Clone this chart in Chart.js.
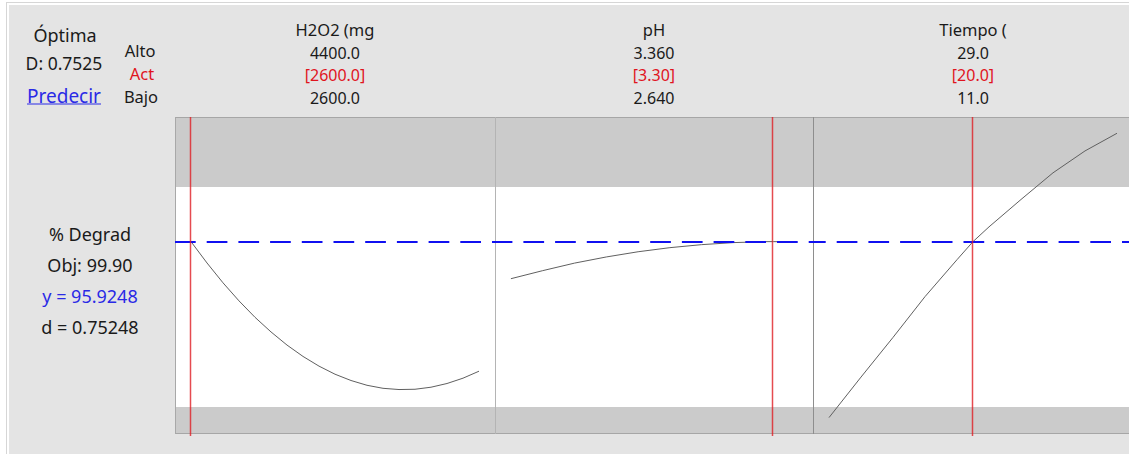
<!DOCTYPE html>
<html>
<head>
<meta charset="utf-8">
<script src="https://cdn.jsdelivr.net/npm/chart.js@4.4.1/dist/chart.umd.min.js"></script>
<style>
  html, body { margin: 0; padding: 0; background: #ffffff; }
  #frame { position: absolute; left: 6px; top: 2px; width: 1130px; height: 460px; border: 1px solid #d6d6d6; }
  #sheet { position: absolute; left: 9px; top: 5px; width: 1130px; height: 460px; background: #e4e4e4; }
  .t { position: absolute; transform: translate(-50%, -50%); white-space: nowrap;
       font-family: "Noto Sans", "Open Sans", sans-serif; color: #1a1a1a; line-height: 1; }
  .red { color: #e0141e; }
  .blue { color: #2a2ae6; }
  canvas.panel { position: absolute; }
</style>
</head>
<body>
<div id="frame"></div>
<div id="sheet"></div>
<div id="labels"></div>
<canvas id="p0" class="panel"></canvas>
<canvas id="p1" class="panel"></canvas>
<canvas id="p2" class="panel"></canvas>
<script>
// Optimizer summary
const compositeD = '0.7525';
const responseName = '% Degrad';
const targetValue = 99.90;     // objective
const lowerValue = 83.84;      // lower desirability bound
const predictedY = 95.9248;
const desirability = 0.75248;

// Factors
const factorNames = ['H2O2 (mg', 'pH', 'Tiempo ('];
const highLabels = ['4400.0', '3.360', '29.0'];
const currentLabels = ['[2600.0]', '[3.30]', '[20.0]'];
const lowLabels = ['2600.0', '2.640', '11.0'];
const factorLow = [2600, 2.64, 11];
const factorHigh = [4400, 3.36, 29];
const factorCurrent = [2600, 3.30, 20];

// Predicted response traces along each factor
const h2o2X = [2600, 2700, 2800, 2900, 3000, 3100, 3200, 3300, 3400, 3500, 3600, 3700, 3800, 3900, 4000, 4100, 4200, 4300, 4400];
const h2o2Y = [95.92, 94.36, 92.91, 91.59, 90.39, 89.32, 88.36, 87.53, 86.82, 86.23, 85.77, 85.42, 85.20, 85.11, 85.13, 85.28, 85.55, 85.94, 86.45];
const phX = [2.64, 2.72, 2.80, 2.88, 2.96, 3.04, 3.12, 3.20, 3.28, 3.30, 3.36];
const phY = [93.21, 93.80, 94.35, 94.80, 95.18, 95.48, 95.70, 95.85, 95.92, 95.92, 95.89];
const tiempoX = [11, 13, 15, 17, 19, 20, 21, 23, 25, 27, 29];
const tiempoY = [83.06, 86.02, 88.92, 91.90, 94.60, 95.92, 97.00, 99.00, 100.95, 102.55, 103.84];

// Shared response axis limits
const yAxisMin = 81.86;
const yAxisMax = 105.03;

const traces = [[h2o2X, h2o2Y], [phX, phY], [tiempoX, tiempoY]];

// Panel geometry on the page
const panelLeft = [175, 495, 813];
const panelWidth = [320, 318, 320];
const panelTop = 117;
const panelHeight = 317;
const dashPhase = [0, 3.3, 8];
const columnCenter = [335, 654, 973];

// ---- text ----
const labelsEl = document.getElementById('labels');
function addText(txt, x, y, size, cls, extra) {
  const d = document.createElement('div');
  d.className = 't' + (cls ? ' ' + cls : '');
  d.textContent = txt;
  d.style.left = x + 'px';
  d.style.top = y + 'px';
  d.style.fontSize = size + 'px';
  if (extra) Object.assign(d.style, extra);
  labelsEl.appendChild(d);
}
addText('Óptima', 65, 35, 18);
addText('D: ' + compositeD, 64, 64, 17.5);
addText('Predecir', 64, 96, 19, 'blue', { textDecoration: 'underline' });
addText('Alto', 140, 51, 16.5);
addText('Act', 142, 74, 16.5, 'red');
addText('Bajo', 141, 97, 16.5);
for (let i = 0; i < 3; i++) {
  addText(factorNames[i], columnCenter[i], 30, 16.5);
  addText(highLabels[i], columnCenter[i], 53, 16);
  addText(currentLabels[i], columnCenter[i], 75, 16, 'red');
  addText(lowLabels[i], columnCenter[i], 98, 16);
}
addText(responseName, 90, 234, 18);
addText('Obj: ' + targetValue.toFixed(2), 90, 265, 18);
addText('y = ' + predictedY.toFixed(4), 90, 296, 18, 'blue');
addText('d = ' + desirability.toFixed(5), 90, 327, 18);

// ---- panels ----
const panelPlugin = {
  id: 'panel',
  beforeDatasetsDraw(chart, args, opts) {
    const { ctx, chartArea: a, scales: { y } } = chart;
    ctx.save();
    ctx.fillStyle = '#ffffff';
    ctx.fillRect(a.left, a.top, a.width, a.height);
    const yT = Math.round(y.getPixelForValue(targetValue));
    const yL = Math.round(y.getPixelForValue(lowerValue));
    ctx.fillStyle = '#cbcbcb';
    ctx.fillRect(a.left, a.top, a.width, yT - a.top);
    ctx.fillRect(a.left, yL, a.width, a.bottom - yL);
    ctx.restore();
  },
  afterDatasetsDraw(chart, args, opts) {
    const { ctx, chartArea: a, scales: { x, y } } = chart;
    ctx.save();
    // frame
    ctx.strokeStyle = '#a6a6a6';
    ctx.lineWidth = 1;
    ctx.beginPath();
    ctx.moveTo(a.left, a.top + 0.5); ctx.lineTo(a.right, a.top + 0.5);
    ctx.moveTo(a.left, a.bottom - 0.5); ctx.lineTo(a.right, a.bottom - 0.5);
    ctx.stroke();
    ctx.strokeStyle = opts.edgeColor;
    ctx.beginPath();
    ctx.moveTo(a.left + 0.5, a.top); ctx.lineTo(a.left + 0.5, a.bottom);
    ctx.stroke();
    // predicted response
    const yp = Math.round(y.getPixelForValue(predictedY));
    ctx.strokeStyle = '#1010f0';
    ctx.lineWidth = 2;
    ctx.setLineDash([20.7, 11]);
    ctx.lineDashOffset = opts.phase;
    ctx.beginPath();
    ctx.moveTo(a.left, yp); ctx.lineTo(a.right, yp);
    ctx.stroke();
    ctx.setLineDash([]);
    // current factor setting
    const xc = Math.round(x.getPixelForValue(opts.current)) - 0.5;
    ctx.strokeStyle = 'rgba(222, 30, 36, 0.8)';
    ctx.lineWidth = 1.5;
    ctx.beginPath();
    ctx.moveTo(xc, a.top); ctx.lineTo(xc, a.bottom + 2);
    ctx.stroke();
    ctx.restore();
  }
};

const edgeColors = ['#a8a8a8', '#b4b4b4', '#8e8e8e'];
for (let i = 0; i < 3; i++) {
  const cv = document.getElementById('p' + i);
  cv.width = panelWidth[i];
  cv.height = panelHeight + 2;
  cv.style.left = panelLeft[i] + 'px';
  cv.style.top = panelTop + 'px';
  const pad = (factorHigh[i] - factorLow[i]) / 18;
  const [xs, ys] = traces[i];
  new Chart(cv, {
    type: 'line',
    data: {
      datasets: [{
        data: xs.map((v, k) => ({ x: v, y: ys[k] })),
        borderColor: '#606060',
        borderWidth: 1,
        pointRadius: 0,
        tension: 0,
        fill: false
      }]
    },
    options: {
      responsive: false,
      animation: false,
      events: [],
      layout: { padding: { left: 0, right: 0, top: 0, bottom: 2 } },
      scales: {
        x: { type: 'linear', min: factorLow[i] - pad, max: factorHigh[i] + pad, display: false },
        y: { type: 'linear', min: yAxisMin, max: yAxisMax, display: false }
      },
      plugins: {
        legend: { display: false },
        tooltip: { enabled: false },
        panel: { current: factorCurrent[i], phase: dashPhase[i], edgeColor: edgeColors[i] }
      }
    },
    plugins: [panelPlugin]
  });
}
</script>
</body>
</html>
